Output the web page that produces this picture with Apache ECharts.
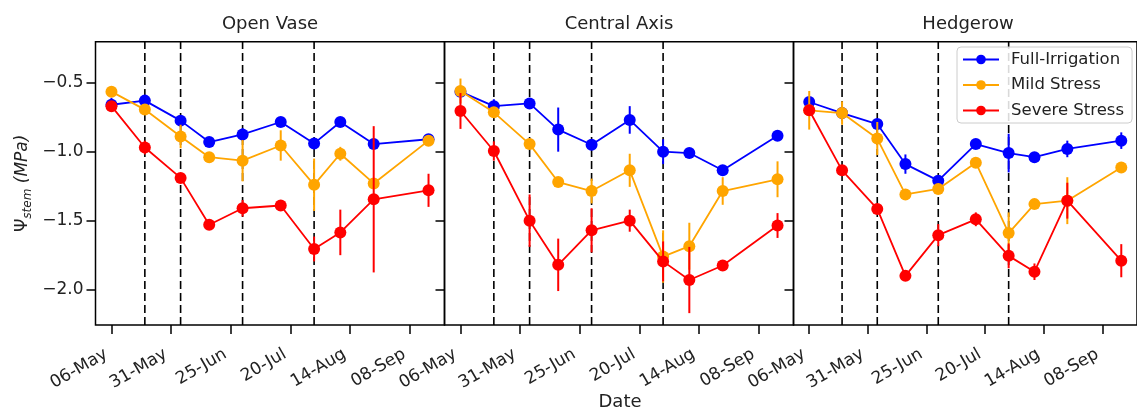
<!DOCTYPE html>
<html>
<head>
<meta charset="utf-8">
<script src="https://cdn.jsdelivr.net/npm/echarts@6/dist/echarts.min.js"></script>
<style>
  html, body { margin: 0; background: #fff; }
  #chart { width: 1137px; height: 412px; }
</style>
</head>
<body>
<div id="chart"></div>
<script>
// measurement dates (same for all three systems)
const dates = ['2022-05-06', '2022-05-20', '2022-06-04', '2022-06-16', '2022-06-30',
  '2022-07-16', '2022-07-30', '2022-08-10', '2022-08-24', '2022-09-16'];
// dashed vertical markers
const markDates = ['2022-05-20', '2022-06-04', '2022-06-30', '2022-07-30'];
// x tick labels
const tickDates = ['2022-05-06', '2022-05-31', '2022-06-25', '2022-07-20', '2022-08-14', '2022-09-08'];
const yTicks = [-2.0, -1.5, -1.0, -0.5];

const panels = ['Open Vase', 'Central Axis', 'Hedgerow'];
const groups = ['Full-Irrigation', 'Mild Stress', 'Severe Stress'];
const colors = ['#0000ff', '#ffa500', '#ff0000'];

// Open Vase
const ovFull = [-0.66, -0.63, -0.775, -0.93, -0.875, -0.785, -0.94, -0.785, -0.945, -0.91];
const ovFullErr = [0.05, 0.02, 0.02, 0.035, 0.045, 0.02, 0.03, 0.02, 0.02, 0.02];
const ovMild = [-0.565, -0.695, -0.89, -1.04, -1.065, -0.955, -1.24, -1.015, -1.23, -0.92];
const ovMildErr = [0.02, 0.03, 0.085, 0.02, 0.15, 0.11, 0.19, 0.05, 0.03, 0.02];
const ovSevere = [-0.67, -0.97, -1.19, -1.53, -1.41, -1.39, -1.705, -1.585, -1.345, -1.28];
const ovSevereErr = [0.03, 0.05, 0.02, 0.02, 0.06, 0.02, 0.09, 0.165, 0.53, 0.12];

// Central Axis
const caFull = [-0.565, -0.67, -0.65, -0.84, -0.95, -0.77, -1.0, -1.01, -1.135, -0.885];
const caFullErr = [0.02, 0.05, 0.02, 0.16, 0.02, 0.1, 0.09, 0.02, 0.03, 0.02];
const caMild = [-0.56, -0.715, -0.945, -1.22, -1.285, -1.135, -1.76, -1.685, -1.285, -1.2];
const caMildErr = [0.09, 0.02, 0.03, 0.02, 0.09, 0.12, 0.19, 0.17, 0.1, 0.13];
const caSevere = [-0.705, -0.995, -1.5, -1.82, -1.57, -1.5, -1.795, -1.93, -1.825, -1.535];
const caSevereErr = [0.13, 0.07, 0.19, 0.19, 0.16, 0.08, 0.145, 0.24, 0.02, 0.09];

// Hedgerow
const hgFull = [-0.64, -0.72, -0.8, -1.09, -1.21, -0.945, -1.01, -1.04, -0.98, -0.92];
const hgFullErr = [0.03, 0.02, 0.03, 0.07, 0.03, 0.02, 0.14, 0.02, 0.06, 0.06];
const hgMild = [-0.7, -0.72, -0.905, -1.31, -1.27, -1.08, -1.59, -1.38, -1.355, -1.115];
const hgMildErr = [0.14, 0.085, 0.12, 0.02, 0.02, 0.02, 0.15, 0.02, 0.17, 0.02];
const hgSevere = [-0.7, -1.135, -1.415, -1.9, -1.605, -1.49, -1.755, -1.87, -1.355, -1.79];
const hgSevereErr = [0.03, 0.03, 0.02, 0.02, 0.08, 0.05, 0.09, 0.06, 0.13, 0.12];

const panelData = [
  [[ovFull, ovFullErr], [ovMild, ovMildErr], [ovSevere, ovSevereErr]],
  [[caFull, caFullErr], [caMild, caMildErr], [caSevere, caSevereErr]],
  [[hgFull, hgFullErr], [hgMild, hgMildErr], [hgSevere, hgSevereErr]]
];

const FONT = 'DejaVu Sans';
const MONTHS = ['Jan', 'Feb', 'Mar', 'Apr', 'May', 'Jun', 'Jul', 'Aug', 'Sep', 'Oct', 'Nov', 'Dec'];
const day0 = Date.UTC(2022, 4, 6);
function toDay(s) {
  const p = s.split('-');
  return (Date.UTC(+p[0], +p[1] - 1, +p[2]) - day0) / 864e5;
}
function fmtDay(d) {
  const dt = new Date(day0 + Math.round(d) * 864e5);
  const dd = dt.getUTCDate();
  return (dd < 10 ? '0' : '') + dd + '-' + MONTHS[dt.getUTCMonth()];
}
const days = dates.map(toDay);
const markDays = markDates.map(toDay);
const tickDays = tickDates.map(toDay);

const xMin = -6.7, xMax = 139.7;
const yMin = -2.256, yMax = -0.203;
const gridLeft = [95.5, 444.5, 793.5];
const gridW = 349;

const chart = echarts.init(document.getElementById('chart'));

const grids = [], xAxes = [], yAxes = [], series = [], graphics = [];

panels.forEach((title, i) => {
  grids.push({
    left: gridLeft[i], top: 41.7, width: gridW, height: 283.3,
    show: true, borderColor: '#000', borderWidth: 1.5, backgroundColor: 'transparent'
  });
  xAxes.push({
    type: 'value', gridIndex: i, min: xMin, max: xMax, position: 'bottom',
    splitLine: { show: false },
    axisLine: { show: false, onZero: false },
    axisTick: { show: true, customValues: tickDays, length: 9, lineStyle: { color: '#000', width: 1.5 } },
    axisLabel: {
      customValues: tickDays, rotate: 30, margin: 25, padding: [0, 6, 0, 0],
      fontFamily: FONT, fontSize: 17, color: '#222',
      formatter: v => fmtDay(v)
    }
  });
  yAxes.push({
    type: 'value', gridIndex: i, min: yMin, max: yMax, position: 'left',
    splitLine: { show: false },
    axisLine: { show: false, onZero: false },
    axisTick: { show: true, customValues: yTicks, length: 9, lineStyle: { color: '#000', width: 1.5 } },
    axisLabel: {
      show: i === 0, customValues: yTicks, margin: 12,
      fontFamily: FONT, fontSize: 17, color: '#222',
      formatter: v => v.toFixed(1).replace('-', '\u2212')
    },
    name: i === 0 ? '{a|\u03A8}{b|stem}{c| (MPa)}' : '',
    nameLocation: 'middle', nameRotate: 90, nameGap: 62,
    nameTextStyle: {
      rich: {
        a: { fontFamily: FONT, fontSize: 17, color: '#222' },
        b: { fontFamily: FONT, fontSize: 12, fontStyle: 'italic', color: '#222', padding: [9, 0, 0, 0] },
        c: { fontFamily: FONT, fontSize: 17, fontStyle: 'italic', color: '#222' }
      }
    }
  });

  // dashed markers
  series.push({
    type: 'custom', xAxisIndex: i, yAxisIndex: i, z: 1, silent: true,
    data: markDays.map(d => [d, yMin]),
    encode: { x: 0, y: 1 },
    renderItem: (params, api) => {
      const a = api.coord([api.value(0), yMin]);
      const b = api.coord([api.value(0), yMax]);
      return {
        type: 'line',
        shape: { x1: a[0], y1: a[1], x2: b[0], y2: b[1] },
        style: { stroke: '#000', lineWidth: 1.6, lineDash: [8, 4] }
      };
    }
  });

  panelData[i].forEach((pair, g) => {
    const vals = pair[0], errs = pair[1];
    series.push({
      type: 'custom', name: groups[g] + ' err', xAxisIndex: i, yAxisIndex: i, z: 2 + g * 2, silent: true,
      data: vals.map((v, k) => [days[k], v - errs[k], v + errs[k]]),
      encode: { x: 0, y: [1, 2] },
      renderItem: (params, api) => {
        const a = api.coord([api.value(0), api.value(1)]);
        const b = api.coord([api.value(0), api.value(2)]);
        return {
          type: 'line',
          shape: { x1: a[0], y1: a[1], x2: b[0], y2: b[1] },
          style: { stroke: colors[g], lineWidth: 2 }
        };
      }
    });
    series.push({
      type: 'line', name: groups[g], xAxisIndex: i, yAxisIndex: i, z: 3 + g * 2,
      data: vals.map((v, k) => [days[k], v]),
      symbol: 'circle', symbolSize: 12, showSymbol: true,
      lineStyle: { color: colors[g], width: 1.8 },
      itemStyle: { color: colors[g] },
      emphasis: { disabled: true }
    });
  });

  graphics.push({
    type: 'text', x: gridLeft[i] + gridW / 2, y: 24,
    style: { text: title, fontFamily: FONT, fontSize: 18, fill: '#222', align: 'center', verticalAlign: 'middle' }
  });
});

graphics.push({
  type: 'text', x: 620, y: 402,
  style: { text: 'Date', fontFamily: FONT, fontSize: 18, fill: '#222', align: 'center', verticalAlign: 'middle' }
});

chart.setOption({
  animation: false,
  grid: grids,
  xAxis: xAxes,
  yAxis: yAxes,
  series: series,
  graphic: graphics,
  legend: {
    data: groups, orient: 'vertical', left: 957, top: 47,
    selectedMode: false,
    itemWidth: 36, itemHeight: 12, itemGap: 8.5,
    padding: [4, 8, 4, 5],
    borderColor: '#ccc', borderWidth: 1, borderRadius: 4,
    backgroundColor: 'rgba(255,255,255,0.85)',
    textStyle: { fontFamily: FONT, fontSize: 16.5, color: '#222', lineHeight: 17, padding: [0, 0, 0, 7] }
  }
});
</script>
</body>
</html>
